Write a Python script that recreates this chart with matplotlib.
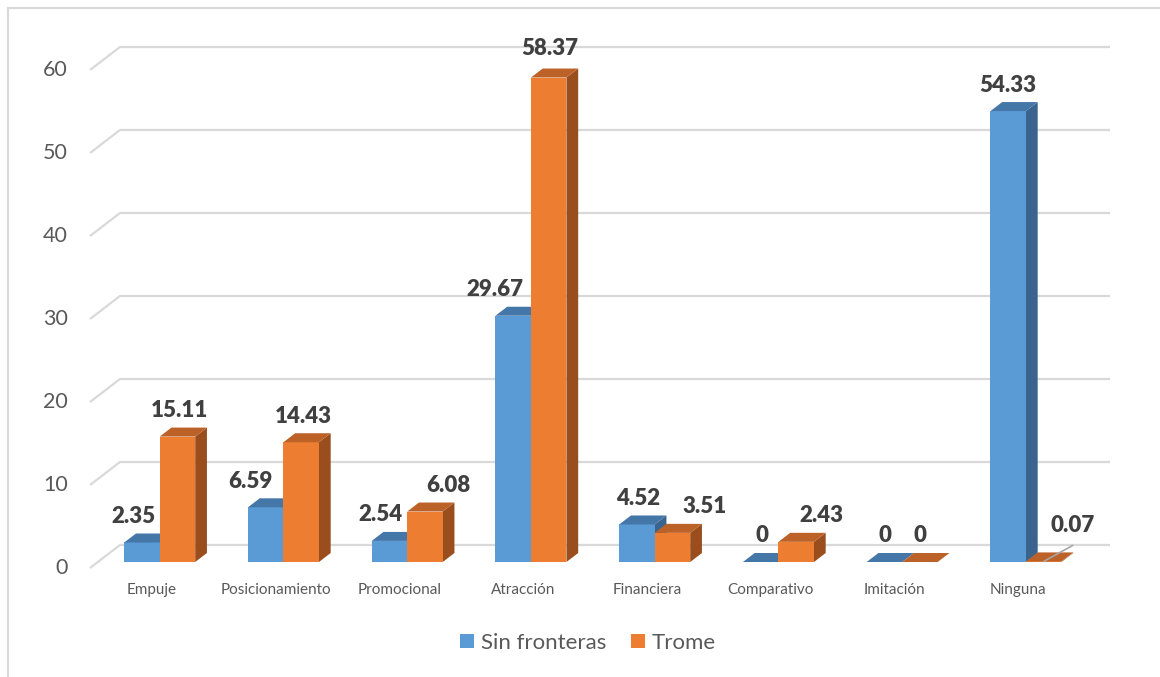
import matplotlib
matplotlib.use("Agg")
import matplotlib.pyplot as plt
from matplotlib.patches import Polygon, Patch
from matplotlib.lines import Line2D

# ---------------- data ----------------
categories = ["Empuje", "Posicionamiento", "Promocional", "Atracción",
              "Financiera", "Comparativo", "Imitación", "Ninguna"]
sin_fronteras = [2.35, 6.59, 2.54, 29.67, 4.52, 0, 0, 54.33]
trome = [15.11, 14.43, 6.08, 58.37, 3.51, 2.43, 0, 0.07]
series_names = ["Sin fronteras", "Trome"]
y_ticks = [0, 10, 20, 30, 40, 50, 60]

# ---------------- layout / style ----------------
W_PX, H_PX = 1160, 677
plot_left, plot_right = 90, 1080      # front plane x extent (px)
y0_px, y60_px = 568, 70               # front plane y of value 0 and 60 (px)
depth_dx_px, depth_dy_px = 30, 23     # floor depth projection (px)
bar_w_px = 35.5
bar_front_frac = 6 / 23               # bars set back into floor depth
bar_depth_frac = 9 / 23

cat_px = (plot_right - plot_left) / len(categories)
val_px = (y0_px - y60_px) / 60.0
DX = depth_dx_px / cat_px             # in category units
DY = depth_dy_px / val_px             # in value units
W = bar_w_px / cat_px
back_right_px = 1110

colors = {
    0: dict(front="#5B9BD5", top="#4576A8", side="#3A648E"),
    1: dict(front="#ED7D31", top="#BC6127", side="#9A4E1E"),
}
grid_color = "#D9D9D9"
text_color = "#595959"
label_color = "#404040"
FONT = ["Lato", "DejaVu Sans"]

# data-label shifts in pixels (relative to bar top-front centre)
label_dx = [[-9, -15, -9, -18, 1, 1, 1, 0],
            [2, 2, 23, 1, 32, 25, 0, 29]]
label_dy = [[26, 26, 26, 26, 26, 26, 26, 26],
            [26, 26, 26, 29, 26, 26, 26, 36]]
PT = 72 / 100.0   # points per pixel

fig = plt.figure(figsize=(W_PX / 100, H_PX / 100), dpi=100)
fig.patch.set_facecolor("white")
ax = fig.add_axes([plot_left / W_PX, (H_PX - y0_px) / H_PX,
                   (plot_right - plot_left) / W_PX, (y0_px - y60_px) / H_PX])
ax.set_xlim(-0.5, len(categories) - 0.5)
ax.set_ylim(0, 60)
ax.axis("off")

# outer chart border
fig.add_artist(Line2D([8 / W_PX, 8 / W_PX], [0, 1 - 8 / H_PX], color=grid_color, lw=1.5,
                      transform=fig.transFigure))
fig.add_artist(Line2D([8 / W_PX, 1], [1 - 8 / H_PX, 1 - 8 / H_PX], color=grid_color, lw=1.5,
                      transform=fig.transFigure))

# gridlines: side wall diagonal + back wall horizontal
xl = -0.5
x_back_end = xl + (back_right_px - plot_left) / cat_px
for v in y_ticks:
    ax.plot([xl, xl + DX, x_back_end], [v, v + DY, v + DY], color=grid_color,
            lw=1.6, clip_on=False, zorder=1, solid_capstyle="butt")
    ax.annotate(str(v), xy=(xl, v), xytext=(-22 * PT, 0), textcoords="offset points",
                ha="right", va="center", fontsize=15.5, color=text_color,
                family=FONT, annotation_clip=False)

# bars
def draw_bar(i, s, v):
    c = colors[s]
    x0 = i - W + s * W + bar_front_frac * DX
    yb = bar_front_frac * DY
    yt = yb + v
    ddx, ddy = bar_depth_frac * DX, bar_depth_frac * DY
    z = 3 + s
    if v > 0:
        ax.add_patch(Polygon([(x0 + W, yb), (x0 + W, yt), (x0 + W + ddx, yt + ddy),
                              (x0 + W + ddx, yb + ddy)], closed=True, fc=c["side"],
                             ec="none", clip_on=False, zorder=z))
        ax.add_patch(Polygon([(x0, yb), (x0 + W, yb), (x0 + W, yt), (x0, yt)],
                             closed=True, fc=c["front"], ec="none", clip_on=False, zorder=z))
    ax.add_patch(Polygon([(x0, yt), (x0 + W, yt), (x0 + W + ddx, yt + ddy), (x0 + ddx, yt + ddy)],
                         closed=True, fc=c["top"], ec="none", clip_on=False, zorder=z))
    return x0 + W / 2, yt

for i in range(len(categories)):
    for s, vals in enumerate([sin_fronteras, trome]):
        v = vals[i]
        cx, ty = draw_bar(i, s, v)
        txt = f"{v:g}"
        ax.annotate(txt, xy=(cx, ty), xytext=(label_dx[s][i] * PT, label_dy[s][i] * PT),
                    textcoords="offset points", ha="center", va="center",
                    fontsize=16, fontweight="heavy", color=label_color, family=FONT,
                    annotation_clip=False, zorder=10)
        if s == 1 and i == len(categories) - 1:
            # leader line for the small 0.07 label
            ax.annotate("", xy=(cx, ty), xytext=(29 * PT, 16 * PT), textcoords="offset points",
                        arrowprops=dict(arrowstyle="-", color="#A6A6A6", lw=1.2,
                                        shrinkA=0, shrinkB=0),
                        annotation_clip=False, zorder=9)

# category labels
for i, name in enumerate(categories):
    ax.annotate(name, xy=(i, 0), xytext=(0, -22 * PT), textcoords="offset points",
                ha="center", va="center", fontsize=11, color=text_color, family=FONT,
                annotation_clip=False)

# legend
handles = [Patch(fc=colors[s]["front"], ec="none", label=series_names[s]) for s in range(2)]
leg = fig.legend(handles=handles, loc="center", bbox_to_anchor=(588 / W_PX, 1 - 643 / H_PX),
                 ncol=2, frameon=False, handlelength=0.65, handleheight=0.62,
                 handletextpad=0.3, columnspacing=1.1,
                 prop={"family": FONT, "size": 16})
for t in leg.get_texts():
    t.set_color(text_color)

fig.savefig("out.png", dpi=100, facecolor="white")
